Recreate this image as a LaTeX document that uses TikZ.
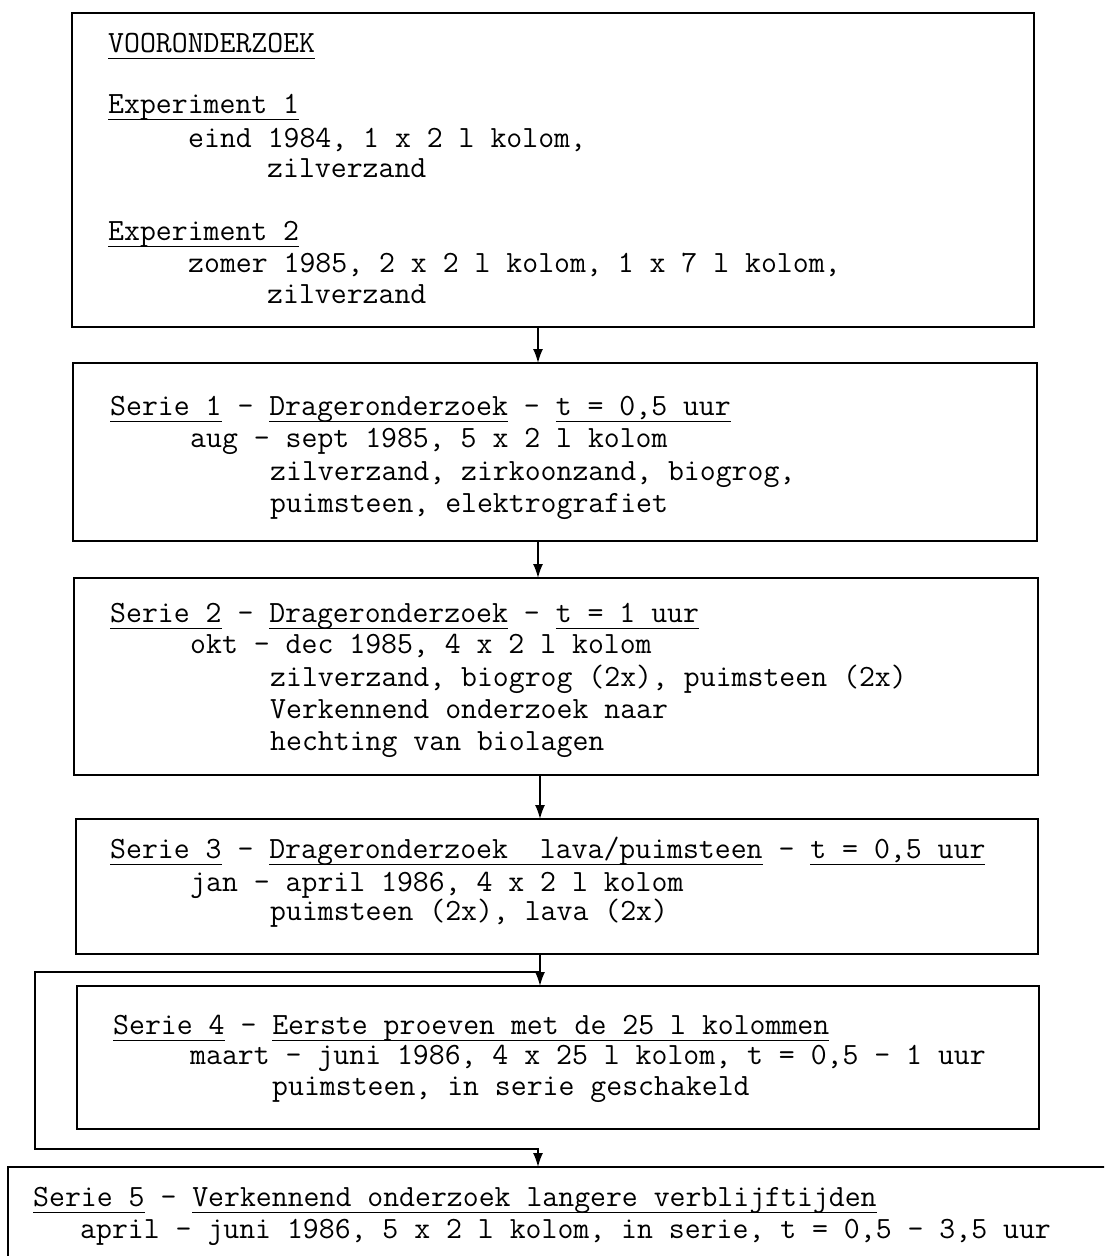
\documentclass[tikz,border=0pt]{standalone}
\usetikzlibrary{arrows.meta}
\newcommand\uln[1]{\leavevmode\setbox0\hbox{#1}\rlap{\rule[-7pt]{\wd0}{1.3pt}}\box0\relax}
\tikzset{
  box/.style={draw, line width=1.7pt, rectangle, inner sep=0pt, outer sep=0pt, anchor=north west},
  txt/.style={anchor=base west, inner sep=0pt, font=\fontsize{30.9}{32}\selectfont\ttfamily\frenchspacing},
  conn/.style={line width=1.7pt},
  arr/.style={conn, -{Latex[length=14pt,width=10pt]}}
}
\begin{document}
\begin{tikzpicture}[x=1pt,y=-1pt]
\useasboundingbox (0,0) rectangle (1104,1256);
\fill[white] (0,0) rectangle (1104,1256);
\clip (0,0) rectangle (1104,1256);
% boxes
\node[box, minimum width=962pt, minimum height=314pt] (b0) at (72,13) {};
\node[box, minimum width=964pt, minimum height=178pt] (b1) at (73,363) {};
\node[box, minimum width=964pt, minimum height=197pt] (b2) at (74,578) {};
\node[box, minimum width=962pt, minimum height=135pt] (b3) at (76,819) {};
\node[box, minimum width=962pt, minimum height=143pt] (b4) at (77,986) {};
\node[box, minimum width=1200pt, minimum height=200pt] (b5) at (8,1167) {};
% box 0 text
\node[txt] (t0a) at (108,52) {\uln{VOORONDERZOEK}};
\node[txt] (t0b) at (108,113) {\uln{Experiment 1}};
\node[txt] (t0c) at (188,147) {eind 1984, 1 x 2 l kolom,};
\node[txt] (t0d) at (267,177) {zilverzand};
\node[txt] (t0e) at (108,240) {\uln{Experiment 2}};
\node[txt] (t0f) at (188,272) {zomer 1985, 2 x 2 l kolom, 1 x 7 l kolom,};
\node[txt] (t0g) at (267,303) {zilverzand};
% box 1 text
\node[txt] (t1a) at (110,415) {\uln{Serie 1} - \uln{Drageronderzoek} - \uln{t = 0,5 uur}};
\node[txt] (t1b) at (190,447) {aug - sept 1985, 5 x 2 l kolom};
\node[txt] (t1c) at (270,480) {zilverzand, zirkoonzand, biogrog,};
\node[txt] (t1d) at (270,512) {puimsteen, elektrografiet};
% box 2 text
\node[txt] (t2a) at (110,622) {\uln{Serie 2} - \uln{Drageronderzoek} - \uln{t = 1 uur}};
\node[txt] (t2b) at (190,653) {okt - dec 1985, 4 x 2 l kolom};
\node[txt] (t2c) at (270,686) {zilverzand, biogrog (2x), puimsteen (2x)};
\node[txt] (t2d) at (270,718) {Verkennend onderzoek naar};
\node[txt] (t2e) at (270,750) {hechting van biolagen};
% box 3 text
\node[txt] (t3a) at (110,858) {\uln{Serie 3} - \uln{Drageronderzoek~ lava/puimsteen} - \uln{t = 0,5 uur}};
\node[txt] (t3b) at (190,891) {jan - april 1986, 4 x 2 l kolom};
\node[txt] (t3c) at (270,920) {puimsteen (2x), lava (2x)};
% box 4 text
\node[txt] (t4a) at (113,1034) {\uln{Serie 4} - \uln{Eerste proeven met de 25 l kolommen}};
\node[txt] (t4b) at (190,1064) {maart - juni 1986, 4 x 25 l kolom, t = 0,5 - 1 uur};
\node[txt] (t4c) at (272,1095) {puimsteen, in serie geschakeld};
% box 5 text
\node[txt] (t5a) at (33,1206) {\uln{Serie 5} - \uln{Verkennend onderzoek langere verblijftijden}};
\node[txt] (t5b) at (80,1238) {april - juni 1986, 5 x 2 l kolom, in serie, t = 0,5 - 3,5 uur};
% connectors
\coordinate (a0) at (538,0);
\coordinate (a1) at (538,0);
\coordinate (a2) at (540,0);
\coordinate (a3) at (540,0);
\coordinate (a5) at (538,0);
\draw[arr] (b0.south -| a0) -- (b1.north -| a0);
\draw[arr] (b1.south -| a1) -- (b2.north -| a1);
\draw[arr] (b2.south -| a2) -- (b3.north -| a2);
\draw[arr] (b3.south -| a3) -- (b4.north -| a3);
\coordinate (jn) at (540,972);
\coordinate (c1) at (35,972);
\coordinate (c2) at (35,1149);
\draw[arr] (jn) -- (c1) -- (c2) -- (c2 -| a5) -- (b5.north -| a5);
\end{tikzpicture}
\end{document}
